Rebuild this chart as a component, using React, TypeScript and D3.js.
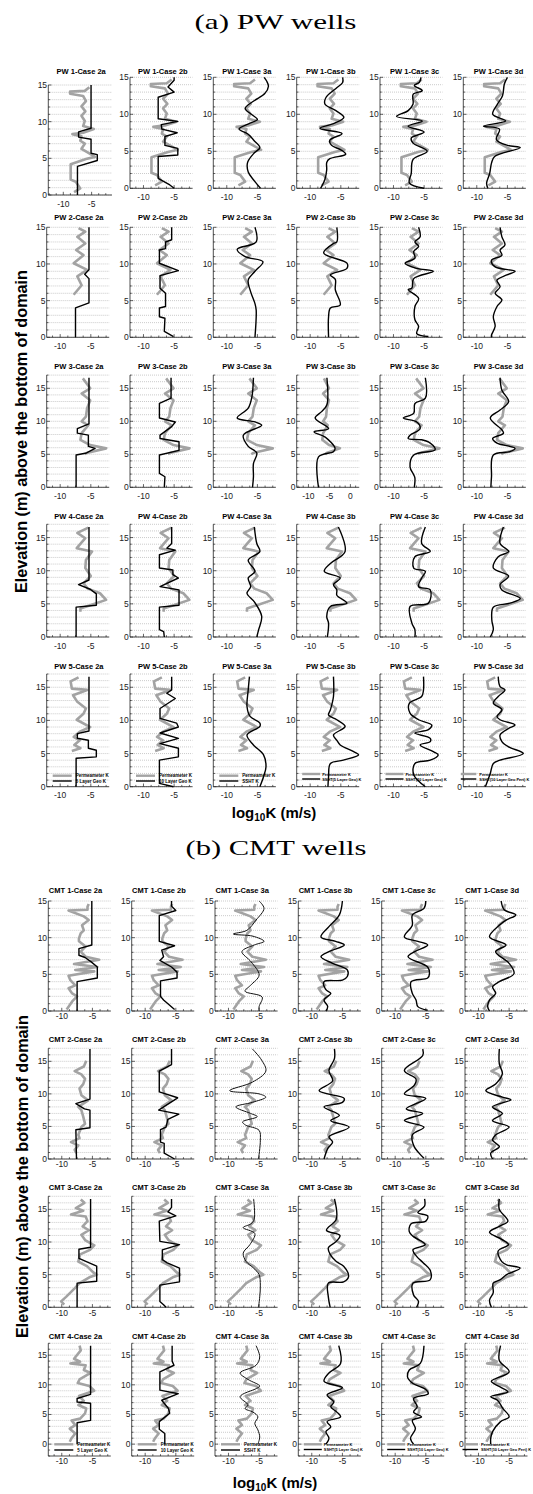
import React from "react"
import * as d3 from "d3"

type Pt = [number, number] // [log10 K, elevation (m)]

const caseIds = ["2a", "2b", "3a", "3b", "3c", "3d"]
const pwWells = ["PW 1", "PW 2", "PW 3", "PW 4", "PW 5"]
const cmtWells = ["CMT 1", "CMT 2", "CMT 3", "CMT 4"]
const permLabel = "Permeameter K"
const modelLabels = [
  "5 Layer Geo K",
  "10 Layer Geo K",
  "SSHT K",
  "SSHT(5 Layer Geo) K",
  "SSHT(10 Layer Geo) K",
  "SSHT(10 Layer Geo Pert) K",
]
const yTickValues = [0, 5, 10, 15]
const xTickValues = [-10, -5]
const xTickValuesWide = [-10, -5, 0]

// ---- permeameter K profiles (grey) ----
const pw1Perm: Pt[] = [[-8.1,0.4],[-7.0,0.9],[-7.8,1.8],[-8.7,2.1],[-8.7,4.2],[-6.0,4.9],[-4.4,5.2],[-5.7,5.8],[-6.8,6.3],[-6.2,7.0],[-7.0,7.4],[-6.8,8.0],[-8.4,8.3],[-6.5,8.5],[-4.6,9.0],[-6.5,9.4],[-6.2,10.1],[-6.8,10.8],[-6.1,11.4],[-6.8,12.1],[-6.0,12.8],[-6.5,13.5],[-8.8,13.8],[-8.8,14.1],[-6.2,14.2],[-5.4,14.7]]
const pw2Perm: Pt[] = [[-7.8,5.8],[-6.5,7.1],[-7.2,8.3],[-5.6,9.2],[-7.8,10.1],[-6.2,11.2],[-7.4,11.9],[-5.9,12.8],[-7.2,13.7],[-5.9,14.4],[-7.0,14.9]]
const pw3Perm: Pt[] = [[-6.0,5.0],[-5.7,5.2],[-2.5,5.9],[-5.1,6.4],[-6.7,7.2],[-6.5,8.2],[-5.4,9.4],[-6.5,10.0],[-5.8,10.7],[-5.6,12.0],[-5.1,13.2],[-6.5,14.2],[-5.1,15.0],[-6.3,16.5]]
const pw4Perm: Pt[] = [[-6.7,3.8],[-6.7,4.3],[-5.1,4.8],[-2.5,5.6],[-3.5,6.6],[-5.5,7.3],[-6.2,8.1],[-5.0,9.2],[-5.9,10.4],[-5.8,11.6],[-4.8,12.9],[-7.3,13.4],[-5.9,14.9],[-7.2,15.7],[-5.4,16.5]]
const pw5Perm: Pt[] = [[-8.1,5.4],[-6.7,5.8],[-7.7,6.3],[-6.8,7.0],[-7.8,7.5],[-6.8,8.3],[-5.1,9.0],[-7.3,10.1],[-6.2,11.0],[-5.8,11.8],[-7.2,12.8],[-7.9,13.8],[-5.6,14.6],[-8.1,14.8],[-8.3,15.9],[-7.0,16.5]]
const cmt1Perm: Pt[] = [[-9.2,0.2],[-8.3,1.3],[-7.5,2.0],[-8.3,2.4],[-8.9,3.1],[-7.8,3.5],[-8.6,4.2],[-8.9,4.8],[-4.7,5.4],[-7.8,5.6],[-4.2,6.0],[-8.0,6.4],[-3.9,7.0],[-6.1,7.4],[-6.9,8.1],[-6.1,8.8],[-7.2,9.5],[-7.2,9.9],[-6.9,10.6],[-6.4,11.0],[-6.7,11.7],[-5.6,12.4],[-6.4,12.9],[-8.9,13.7],[-5.8,13.8],[-5.8,14.2],[-5.6,14.6]]
const cmt2Perm: Pt[] = [[-7.6,0.9],[-7.9,1.4],[-7.3,2.1],[-8.5,2.6],[-7.1,3.2],[-7.3,3.7],[-7.1,4.2],[-6.8,4.9],[-6.2,5.4],[-6.5,6.5],[-6.8,7.5],[-7.3,8.0],[-6.5,8.5],[-5.7,9.0],[-6.8,9.8],[-7.1,10.8],[-6.5,11.5],[-6.2,12.3],[-6.8,13.0],[-7.9,13.5],[-6.4,14.2],[-6.0,15.1]]
const cmt3Perm: Pt[] = [[-9.6,0.4],[-10.1,0.9],[-9.3,1.6],[-7.9,2.9],[-7.1,3.7],[-5.5,4.6],[-4.3,5.0],[-4.8,5.3],[-5.9,6.3],[-7.3,7.0],[-7.0,8.1],[-5.4,8.8],[-4.7,9.5],[-6.2,10.3],[-6.8,11.1],[-5.6,11.8],[-6.6,12.4],[-5.8,13.2],[-6.1,13.9],[-8.5,14.2],[-6.5,14.8],[-7.7,15.2],[-6.3,16.0],[-6.9,16.5]]
const cmt4Perm: Pt[] = [[-8.7,0.4],[-8.4,1.0],[-7.8,1.8],[-8.7,2.6],[-7.8,3.2],[-8.4,4.0],[-7.0,4.3],[-6.2,5.2],[-6.0,6.0],[-7.3,6.6],[-6.4,7.3],[-7.2,8.1],[-4.7,9.0],[-5.5,9.8],[-7.4,10.3],[-7.1,10.9],[-5.3,12.0],[-6.4,12.5],[-6.1,13.3],[-8.6,13.6],[-7.0,13.9],[-8.0,14.4],[-6.9,15.8],[-7.1,16.6]]

// ---- model K profiles (black), one per case 2a,2b,3a,3b,3c,3d ----
const pw1Model: Pt[][] = [
  [[-7.5,0],[-7.5,3.9],[-4.0,4.7],[-4.0,5.5],[-5.1,5.7],[-5.1,7.6],[-7.3,7.9],[-7.3,8.6],[-5.1,9.1],[-5.1,15]],
  [[-5.0,0],[-5.7,0.45],[-7.6,1.35],[-7.6,4.3],[-4.4,4.5],[-4.4,5.4],[-6.5,5.8],[-6.5,7.0],[-4.5,7.5],[-7.0,8.0],[-7.1,8.6],[-4.4,9.05],[-7.6,9.4],[-7.6,12.3],[-5.0,13.0],[-6.0,13.7],[-5.0,14.6],[-5.0,15]],
  [[-4.5,0],[-5.5,1],[-6.5,2.2],[-6.6,3.5],[-5.5,4.8],[-4.6,5.5],[-5.6,6.5],[-6.5,7.3],[-8.0,8.0],[-6.2,8.8],[-5.0,9.3],[-6.0,10.0],[-7.0,10.8],[-5.6,11.8],[-3.8,12.8],[-3.2,13.8],[-3.5,14.5],[-3.9,15]],
  [[-8.3,0],[-8.1,0.3],[-7.6,1.2],[-7.3,2.5],[-7.3,3.5],[-6.8,4.0],[-4.2,4.6],[-5.0,5.2],[-6.5,5.8],[-6.8,6.5],[-4.8,7.4],[-8.4,8.1],[-6.0,8.8],[-4.5,9.6],[-5.8,10.5],[-7.6,11.4],[-7.4,12.3],[-5.8,13.5],[-4.7,14.3],[-4.7,15]],
  [[-5.0,0],[-7.4,0.7],[-7.1,2.0],[-6.8,3.9],[-4.5,5.0],[-6.8,6.1],[-7.1,6.8],[-5.0,7.6],[-7.6,8.4],[-5.3,9.1],[-9.5,9.7],[-7.6,10.5],[-6.8,11.4],[-6.8,12.7],[-5.3,13.2],[-6.6,13.9],[-5.8,14.3],[-5.5,15]],
  [[-8.2,0],[-8.4,0.7],[-7.9,2.0],[-7.6,3.4],[-7.1,4.3],[-2.9,5.5],[-5.0,5.8],[-6.8,6.6],[-6.3,8.0],[-8.9,8.4],[-5.3,9.1],[-7.4,10.0],[-6.6,11.4],[-5.8,12.5],[-5.5,14.1],[-5.0,15]],
]
const pw2Model: Pt[][] = [
  [[-7.5,0],[-7.5,4.0],[-5.3,4.7],[-5.3,8.0],[-6.0,8.6],[-5.3,9.2],[-5.3,15]],
  [[-5.1,0.1],[-6.6,0.8],[-6.5,2.6],[-7.4,2.8],[-7.4,4.0],[-6.4,4.2],[-6.4,6.0],[-7.3,6.7],[-7.3,8.4],[-4.3,9.1],[-7.4,10.1],[-7.4,11.9],[-6.4,12.1],[-6.4,13.0],[-5.4,13.3],[-5.4,15]],
  [[-5.4,0],[-5.2,3.7],[-5.4,4.6],[-6.1,6.2],[-6.5,7.8],[-5.4,9.0],[-4.1,10.3],[-7.0,11.0],[-8.3,12.0],[-5.2,13.0],[-5.4,15]],
  [[-7.0,0],[-7.0,2.8],[-6.7,4.0],[-5.1,4.4],[-5.9,6.5],[-5.9,7.9],[-6.7,8.5],[-4.0,9.4],[-4.0,10.1],[-7.8,11.5],[-6.2,12.8],[-5.65,13.0],[-5.65,15]],
  [[-4.3,0.1],[-6.2,0.5],[-5.9,1.5],[-6.5,2.4],[-6.5,4.2],[-5.9,5.3],[-7.6,6.5],[-7.0,6.7],[-6.7,8.0],[-3.5,9.0],[-6.2,9.4],[-8.1,10.1],[-6.5,10.8],[-6.7,11.7],[-5.9,12.4],[-6.5,13.0],[-5.65,13.7],[-5.9,15]],
  [[-7.6,0],[-7.6,0.3],[-7.0,1.5],[-7.3,2.8],[-6.7,4.2],[-5.9,5.1],[-7.0,6.0],[-6.2,6.9],[-6.7,7.8],[-5.1,8.5],[-3.75,9.0],[-7.0,9.6],[-7.6,10.5],[-5.9,11.2],[-6.2,11.9],[-5.4,12.6],[-5.9,13.7],[-6.2,15]],
]
const pw3Model: Pt[][] = [
  [[-7.4,0],[-7.4,4.9],[-5.7,5.2],[-4.3,5.9],[-5.4,6.2],[-5.4,7.9],[-7.2,8.2],[-7.2,8.9],[-5.3,9.6],[-5.3,16.6]],
  [[-6.6,0],[-6.5,1.6],[-7.4,2.1],[-7.4,4.9],[-4.2,5.6],[-4.2,6.9],[-7.3,7.4],[-7.3,7.9],[-5.4,9.2],[-4.8,9.9],[-7.4,10.5],[-7.4,12.7],[-5.5,13.5],[-5.5,16.6]],
  [[-5.8,0],[-5.65,1.6],[-5.65,3.6],[-5.1,5.2],[-6.5,6.2],[-7.3,7.9],[-4.3,9.4],[-5.4,9.9],[-8.3,10.5],[-6.5,12.0],[-5.9,13.7],[-5.65,16.6]],
  [[-7.6,0],[-7.6,4.6],[-4.05,5.4],[-3.65,5.9],[-6.0,7.6],[-8.65,8.4],[-5.2,8.9],[-8.4,10.5],[-6.8,11.5],[-5.6,12.5],[-5.6,16.6]],
  [[-6.6,0],[-6.5,1.4],[-6.7,1.9],[-7.3,3.1],[-6.7,4.9],[-3.2,5.7],[-4.0,6.7],[-5.4,7.2],[-7.6,7.4],[-7.3,7.9],[-5.65,8.9],[-6.2,9.9],[-8.4,10.5],[-6.7,11.2],[-6.5,12.7],[-4.8,13.5],[-4.8,16.6]],
  [[-7.7,0],[-7.6,1.6],[-7.3,4.9],[-4.6,5.4],[-3.75,5.9],[-4.6,6.2],[-6.7,6.7],[-7.4,7.4],[-5.65,8.2],[-5.9,8.7],[-7.8,10.5],[-6.2,11.7],[-4.8,13.0],[-5.9,14.7],[-6.2,16.6]],
]
const pw4Model: Pt[][] = [
  [[-7.4,0],[-7.4,4.5],[-4.1,4.8],[-4.1,6.5],[-5.1,7.2],[-7.0,7.9],[-5.3,8.6],[-5.3,16.6]],
  [[-6.6,0],[-6.7,0.8],[-7.4,1.1],[-7.4,4.5],[-4.2,4.8],[-4.2,7.1],[-7.3,7.6],[-4.3,8.9],[-5.2,9.4],[-5.2,10.1],[-7.4,10.4],[-7.4,12.4],[-4.8,13.1],[-6.2,13.4],[-5.4,14.1],[-5.4,16.6]],
  [[-5.1,0],[-4.8,1.1],[-4.3,3.1],[-5.5,5.3],[-6.7,6.6],[-6.1,7.6],[-6.5,8.9],[-5.4,9.9],[-6.5,11.6],[-4.6,12.9],[-5.1,14.1],[-5.5,16.6]],
  [[-7.2,0],[-7.0,2.1],[-7.3,3.1],[-6.7,4.6],[-4.0,5.1],[-5.65,6.3],[-5.65,7.1],[-6.2,7.9],[-5.1,8.9],[-7.7,9.9],[-6.7,11.1],[-4.3,12.9],[-5.4,16.6]],
  [[-6.5,0],[-6.5,1.1],[-7.0,2.1],[-7.3,4.6],[-4.3,5.1],[-4.0,7.1],[-5.9,7.6],[-5.4,8.9],[-4.8,9.9],[-6.7,10.4],[-6.5,12.1],[-4.0,12.9],[-5.4,14.1],[-4.8,16.6]],
  [[-7.8,0],[-7.3,1.1],[-7.55,2.6],[-7.3,4.5],[-4.6,5.1],[-2.9,5.8],[-5.9,7.1],[-6.2,7.9],[-4.8,9.2],[-7.3,10.4],[-6.5,12.1],[-4.8,12.9],[-6.2,14.1],[-5.65,16.6]],
]
const pw5Model: Pt[][] = [
  [[-7.4,0],[-7.4,4.3],[-4.1,4.5],[-4.1,5.5],[-5.4,5.8],[-5.4,7.0],[-7.2,7.3],[-7.2,8.0],[-5.3,8.4],[-5.3,16.6]],
  [[-5.1,0],[-7.4,0.5],[-7.4,4.0],[-4.3,4.5],[-4.3,5.8],[-7.3,6.5],[-4.3,7.3],[-7.3,8.1],[-4.3,9.0],[-4.6,9.6],[-7.3,10.3],[-7.3,11.8],[-4.8,13.3],[-6.2,14.1],[-5.4,14.6],[-5.4,16.6]],
  [[-4.6,0],[-4.0,1.5],[-3.6,3.0],[-4.0,4.8],[-5.65,6.3],[-6.7,7.8],[-4.6,9.1],[-4.6,9.6],[-6.2,10.6],[-6.7,12.1],[-6.5,14.6],[-6.3,16.6]],
  [[-7.1,0],[-7.0,1.5],[-6.7,3.5],[-4.6,4.0],[-2.1,4.8],[-2.9,5.3],[-5.1,6.3],[-5.65,7.0],[-6.2,7.8],[-4.3,9.1],[-5.65,10.1],[-7.0,10.8],[-6.7,11.6],[-6.2,13.6],[-6.2,16.6]],
  [[-4.8,0],[-6.7,1.8],[-6.5,3.5],[-4.0,4.0],[-2.7,4.8],[-3.5,5.3],[-5.65,6.3],[-4.0,6.8],[-4.0,7.3],[-6.5,8.1],[-4.3,8.6],[-3.75,9.3],[-5.9,10.1],[-7.3,11.1],[-7.4,12.6],[-5.4,13.6],[-5.1,14.6],[-5.1,16.6]],
  [[-8.6,0],[-7.8,2.0],[-7.3,3.5],[-6.2,4.0],[-2.4,5.0],[-4.8,6.0],[-5.9,6.8],[-6.2,7.8],[-4.8,8.8],[-3.75,9.3],[-6.2,10.1],[-6.7,10.6],[-5.9,11.6],[-7.3,12.6],[-6.5,13.6],[-5.4,14.6],[-6.2,15.1],[-6.5,16.6]],
]
const cmt1Model: Pt[][] = [
  [[-7.5,0],[-7.5,4.0],[-4.2,4.5],[-4.2,6.0],[-5.2,6.7],[-6.2,7.3],[-7.2,7.6],[-7.2,8.5],[-5.1,9.0],[-5.1,15]],
  [[-5.2,0.2],[-7.0,1.5],[-7.5,2.0],[-7.5,4.1],[-4.8,4.5],[-4.8,5.3],[-5.7,6.0],[-7.6,6.9],[-7.0,7.4],[-7.3,8.3],[-5.2,8.9],[-7.7,9.5],[-7.7,13.0],[-5.0,13.7],[-5.7,14.3],[-5.7,15]],
  [[-5.0,0],[-5.0,0.6],[-4.5,1.9],[-7.3,2.7],[-6.4,3.5],[-5.0,4.9],[-6.3,6.7],[-7.8,8.1],[-5.8,9.0],[-4.2,9.5],[-6.0,10.2],[-9.2,10.5],[-7.0,11.0],[-5.5,12.4],[-4.2,14.0],[-5.0,15]],
  [[-7.7,0],[-7.4,0.6],[-8.0,1.5],[-6.9,2.4],[-7.7,2.9],[-8.0,4.0],[-5.0,4.2],[-4.2,4.7],[-4.2,5.6],[-6.6,6.5],[-8.5,7.4],[-7.2,8.1],[-4.7,9.0],[-6.1,9.5],[-8.5,10.1],[-7.2,11.5],[-5.5,13.1],[-5.0,15]],
  [[-4.7,0.1],[-6.3,0.6],[-6.6,1.5],[-7.2,2.4],[-7.4,4.0],[-4.7,4.5],[-4.4,5.1],[-4.7,6.0],[-7.9,7.4],[-6.8,8.1],[-4.7,9.0],[-6.3,9.5],[-8.5,10.1],[-7.2,11.7],[-7.2,13.1],[-5.3,14.0],[-5.0,15]],
  [[-8.2,0],[-8.5,0.6],[-8.2,1.5],[-7.2,2.4],[-7.7,3.3],[-6.6,4.0],[-4.2,5.1],[-5.0,6.5],[-7.2,8.1],[-5.5,9.0],[-8.2,10.1],[-6.6,11.7],[-5.5,12.4],[-3.9,13.1],[-5.8,13.8],[-6.3,15]],
]
const cmt2Model: Pt[][] = [
  [[-7.6,0],[-7.7,4.5],[-5.4,4.8],[-5.4,7.5],[-6.3,7.7],[-7.7,8.5],[-5.4,9.2],[-5.4,16.9]],
  [[-5.2,0],[-6.9,0.9],[-6.9,2.4],[-7.5,2.6],[-7.5,4.5],[-6.6,4.9],[-6.3,6.1],[-4.5,6.9],[-7.8,7.5],[-4.7,9.4],[-7.7,10.3],[-7.7,13.5],[-5.7,14.5],[-5.7,16.9]],
  [[-5.1,0],[-4.8,2.9],[-5.0,4.4],[-7.2,5.2],[-7.7,5.7],[-5.3,6.5],[-6.4,7.0],[-8.8,8.0],[-6.1,8.7],[-3.9,9.5],[-5.0,10.0],[-9.8,10.5],[-6.1,11.8],[-3.9,13.5],[-4.6,15.2],[-6.1,16.9]],
  [[-8.0,0],[-7.4,1.6],[-6.6,2.6],[-7.2,3.4],[-3.9,4.9],[-6.9,5.9],[-5.5,6.7],[-8.0,8.0],[-5.0,8.7],[-4.7,9.3],[-8.8,10.5],[-6.6,12.0],[-7.2,13.6],[-6.3,15.4],[-6.3,16.9]],
  [[-5.3,0.1],[-6.1,0.9],[-6.9,1.9],[-7.2,3.7],[-5.3,4.9],[-8.5,5.9],[-5.5,7.0],[-8.2,7.7],[-5.0,9.3],[-8.5,10.0],[-6.9,11.3],[-6.6,12.3],[-8.5,13.6],[-5.5,15.9],[-5.5,16.9]],
  [[-7.7,0],[-8.0,0.9],[-6.6,1.9],[-7.7,2.9],[-7.2,3.7],[-5.0,4.9],[-7.7,5.9],[-6.1,7.0],[-7.7,8.0],[-4.7,9.1],[-6.1,9.5],[-8.8,10.5],[-7.2,11.5],[-6.1,13.1],[-6.6,14.6],[-6.6,16.9]],
]
const cmt3Model: Pt[][] = [
  [[-7.5,0],[-7.5,3.7],[-4.3,4.0],[-4.3,6.3],[-7.2,7.5],[-7.2,8.9],[-5.3,9.2],[-5.3,16.6]],
  [[-6.6,0],[-7.0,0.4],[-7.6,0.9],[-7.6,3.4],[-4.4,3.9],[-4.4,6.0],[-6.4,6.8],[-7.2,7.3],[-7.2,8.8],[-4.4,9.6],[-7.6,10.1],[-7.7,13.2],[-5.0,14.0],[-6.3,14.6],[-5.7,15.3],[-5.7,16.6]],
  [[-5.1,0],[-4.9,1.6],[-4.8,3.4],[-5.0,5.0],[-5.9,6.0],[-7.1,7.0],[-7.6,8.3],[-6.5,9.6],[-5.7,11.3],[-7.6,12.2],[-6.3,12.8],[-5.8,13.5],[-5.9,16.6]],
  [[-7.0,0],[-7.3,1.6],[-7.3,3.7],[-4.8,3.9],[-4.0,4.7],[-4.8,6.3],[-6.0,7.0],[-7.0,8.1],[-7.3,9.1],[-6.0,10.1],[-5.4,11.0],[-7.6,11.8],[-6.0,13.5],[-6.3,16.6]],
  [[-6.5,0],[-6.2,0.9],[-7.0,1.9],[-7.1,3.7],[-4.3,4.2],[-4.3,5.7],[-5.4,6.8],[-6.5,7.8],[-7.1,8.8],[-5.1,9.6],[-7.1,10.9],[-7.7,11.6],[-7.4,12.8],[-5.0,13.2],[-4.7,14.0],[-6.3,14.5],[-5.2,15.5],[-5.2,16.6]],
  [[-7.9,0],[-8.2,1.1],[-7.6,2.2],[-7.6,3.7],[-6.5,4.2],[-5.4,5.0],[-3.2,6.0],[-5.4,6.5],[-6.2,7.0],[-6.8,8.6],[-5.1,9.6],[-6.2,10.4],[-8.2,11.5],[-6.6,12.4],[-5.2,13.2],[-6.6,15.0],[-6.6,16.6]],
]
const cmt4Model: Pt[][] = [
  [[-7.5,0],[-7.5,3.6],[-5.3,4.0],[-5.3,6.9],[-7.5,7.1],[-7.5,7.7],[-5.3,8.4],[-5.3,16.6]],
  [[-6.8,0],[-6.8,1.8],[-7.7,2.5],[-7.7,3.8],[-6.0,5.2],[-6.2,6.0],[-7.3,7.4],[-4.6,8.5],[-7.6,9.1],[-7.6,12.2],[-5.3,13.3],[-5.6,14.0],[-5.6,16.6]],
  [[-5.2,0],[-4.9,1.2],[-5.2,2.4],[-5.7,3.5],[-5.2,4.6],[-6.0,5.4],[-7.3,6.0],[-6.8,6.6],[-8.1,8.0],[-5.4,9.4],[-4.9,9.8],[-6.8,10.9],[-8.1,12.0],[-5.5,13.3],[-4.9,14.7],[-5.5,16.6]],
  [[-7.7,0],[-7.2,1.0],[-7.7,2.1],[-6.9,2.9],[-7.5,3.8],[-5.3,4.6],[-5.9,5.4],[-6.9,6.3],[-6.4,7.1],[-7.5,8.3],[-5.0,9.5],[-8.0,10.6],[-7.2,12.0],[-5.3,13.6],[-5.6,16.6]],
  [[-7.0,0],[-7.5,1.0],[-6.7,2.6],[-7.2,4.0],[-5.7,4.6],[-7.0,5.4],[-6.4,6.3],[-7.0,7.7],[-4.6,8.5],[-5.0,9.2],[-7.2,10.3],[-8.0,11.4],[-7.7,12.5],[-5.9,13.6],[-5.3,16.6]],
  [[-8.0,0],[-8.0,1.0],[-7.7,2.1],[-6.4,3.8],[-5.0,4.6],[-6.0,6.0],[-6.9,7.4],[-8.0,8.0],[-5.2,8.8],[-6.4,9.6],[-7.9,10.6],[-5.0,12.2],[-6.6,14.1],[-6.4,16.6]],
]

// ---- layout ----
const W = 533
const H = 1494
const PANEL_W = 62.5
const K_DOMAIN: [number, number] = [-12.2, -2.0]
const K_DOMAIN_WIDE: [number, number] = [-12.8, 2.1]
const pwColX = [46.7, 130, 213.3, 296.7, 380, 463.3]
const cmtColX = [48.3, 131.7, 215, 298.3, 381.7, 465]
const SANS = "Liberation Sans, Arial, Helvetica, sans-serif"
const SERIF = "Liberation Serif, Times New Roman, serif"
const GREY = "#a3a3a3"

interface RowSpec {
  well: string
  perm: Pt[]
  models: Pt[][]
  titleY: number
  top: number
  bottom: number
  zDomain: [number, number]
  cmt: boolean
  legend?: { gray: number[]; black: number[] }
}

const rows: RowSpec[] = [
  { well: pwWells[0], perm: pw1Perm, models: pw1Model, titleY: 71, top: 77.3, bottom: 188.3, zDomain: [0, 15], cmt: false },
  { well: pwWells[1], perm: pw2Perm, models: pw2Model, titleY: 217.3, top: 227.3, bottom: 337.3, zDomain: [0, 15], cmt: false },
  { well: pwWells[2], perm: pw3Perm, models: pw3Model, titleY: 366.7, top: 375.1, bottom: 487.3, zDomain: [0, 17], cmt: false },
  { well: pwWells[3], perm: pw4Perm, models: pw4Model, titleY: 516.7, top: 524.3, bottom: 637, zDomain: [0, 17], cmt: false },
  { well: pwWells[4], perm: pw5Perm, models: pw5Model, titleY: 666, top: 674, bottom: 786.7, zDomain: [0, 17], cmt: false,
    legend: { gray: [11, 11, 11, 12.7, 12.7, 12.7], black: [5.7, 5.7, 5.7, 7.7, 7.7, 7.7] } },
  { well: cmtWells[0], perm: cmt1Perm, models: cmt1Model, titleY: 890.7, top: 901, bottom: 1011, zDomain: [0, 15], cmt: true },
  { well: cmtWells[1], perm: cmt2Perm, models: cmt2Model, titleY: 1039.3, top: 1048.3, bottom: 1159, zDomain: [0, 17], cmt: true },
  { well: cmtWells[2], perm: cmt3Perm, models: cmt3Model, titleY: 1187.3, top: 1196.3, bottom: 1307.3, zDomain: [0, 17], cmt: true },
  { well: cmtWells[3], perm: cmt4Perm, models: cmt4Model, titleY: 1336, top: 1343.3, bottom: 1456, zDomain: [-2, 17], cmt: true,
    legend: { gray: [11.7, 11.7, 11.7, 11.7, 11.7, 11.7], black: [6, 6, 6, 6.5, 6.5, 6.5] } },
]

// legend placement per column: line start, line end, text start (relative to left axis)
const legendX = [[6, 25, 29], [6, 25, 29], [6, 25, 29], [5.5, 23.5, 25.5], [5.5, 23.5, 25.5], [-2.5, 13, 16]]

interface PanelProps {
  row: RowSpec
  col: number
  rowIndex: number
}

function Panel({ row, col, rowIndex }: PanelProps) {
  let x0 = (row.cmt ? cmtColX : pwColX)[col]
  let w = PANEL_W
  let top = row.top
  let bottom = row.bottom
  let kDomain = K_DOMAIN
  let kTicks = xTickValues
  if (rowIndex === 0 && col === 0) {
    // first PW panel sits a bit lower and wider in the original
    x0 = 48.3
    w = 63.7
    top = 85
    bottom = 195
    kDomain = [-12.65, -1.4]
  }
  if (rowIndex === 2 && col === 3) {
    kDomain = K_DOMAIN_WIDE
    kTicks = xTickValuesWide
  }
  const x = d3.scaleLinear().domain(kDomain).range([x0, x0 + w])
  const y = d3.scaleLinear().domain(row.zDomain).range([bottom, top])
  const yBase = y(row.zDomain[0])
  const gridZ = d3.range(Math.max(0, Math.ceil(row.zDomain[0])), Math.floor(row.zDomain[1]) + 1)
  const minorZ = d3.range(Math.ceil(row.zDomain[0]), Math.floor(row.zDomain[1]) + 1)
  const minorK = d3.range(Math.ceil(kDomain[0] / 1.25) * 1.25, kDomain[1], 1.25)

  const permLine = d3.line<Pt>().x((d) => x(d[0])).y((d) => y(d[1]))
  const modelLine = d3
    .line<Pt>()
    .x((d) => x(d[0]))
    .y((d) => y(d[1]))
    .curve(col >= 2 ? d3.curveCatmullRom.alpha(0.5) : d3.curveLinear)

  const thin = row.cmt && col === 2
  const labelGap = row.cmt ? 8.4 : 11.5
  const title = `${row.well}-Case ${caseIds[col]}`
  const titleX = row.cmt ? x0 + w / 2 - 4 + (col === 5 ? 0 : 0) : x0 + w / 2 + 1 + col * 0.6

  return (
    <g>
      <text x={titleX} y={row.titleY + 2.7} textAnchor="middle" fontFamily={SANS} fontWeight="bold" fontSize={7.5}>
        {title}
      </text>
      {gridZ.map((z) => (
        <line key={`g${z}`} x1={x0} x2={x0 + w} y1={y(z)} y2={y(z)} stroke="#b4b4b4" strokeWidth={0.7} strokeDasharray="1,1" />
      ))}
      <line x1={x0} x2={x0} y1={top} y2={yBase} stroke="#222" strokeWidth={0.8} />
      <line x1={x0} x2={x0 + w} y1={yBase} y2={yBase} stroke="#222" strokeWidth={0.8} />
      {minorZ.map((z) => (
        <line key={`yt${z}`} x1={x0} x2={x0 + (z % 5 === 0 ? 3.2 : 1.8)} y1={y(z)} y2={y(z)} stroke="#222" strokeWidth={0.7} />
      ))}
      {minorK.map((k) => (
        <line key={`xt${k}`} x1={x(k)} x2={x(k)} y1={yBase} y2={yBase - (k % 5 === 0 ? 3.2 : 1.8)} stroke="#222" strokeWidth={0.7} />
      ))}
      {yTickValues.map((z) => (
        <text key={`yl${z}`} x={x0 - 1.2} y={y(z) + 3} textAnchor="end" fontFamily={SANS} fontSize={8.5} fill="#222">
          {z}
        </text>
      ))}
      {kTicks.map((k) => (
        <text key={`xl${k}`} x={x(k)} y={yBase + labelGap} textAnchor="middle" fontFamily={SANS} fontSize={8.5} fill="#222">
          {k}
        </text>
      ))}
      <path d={permLine(row.perm) ?? ""} fill="none" stroke={GREY} strokeWidth={2.6} strokeLinejoin="round" />
      <path d={modelLine(row.models[col]) ?? ""} fill="none" stroke={thin ? "#111" : "#000"}
        strokeWidth={thin ? 1.0 : 1.4} strokeLinejoin="round" />
      {row.legend && (
        <g fontFamily={SANS} fontWeight="bold" fontSize={col >= 3 ? 3.9 : 4.5}>
          <line x1={x0 + legendX[col][0]} x2={x0 + legendX[col][1]} y1={yBase - row.legend.gray[col]} y2={yBase - row.legend.gray[col]}
            stroke={GREY} strokeWidth={2.4} />
          <text x={x0 + legendX[col][2]} y={yBase - row.legend.gray[col] + 1.5}>{permLabel}</text>
          <line x1={x0 + legendX[col][0]} x2={x0 + legendX[col][1]} y1={yBase - row.legend.black[col]} y2={yBase - row.legend.black[col]}
            stroke="#000" strokeWidth={1.4} />
          <text x={x0 + legendX[col][2]} y={yBase - row.legend.black[col] + 1.5}>{modelLabels[col]}</text>
        </g>
      )}
    </g>
  )
}

export default function App() {
  return (
    <svg width={W} height={H} viewBox={`0 0 ${W} ${H}`} style={{ position: "absolute", left: 0, top: 0, background: "#fff" }}>
      <rect x={0} y={0} width={W} height={H} fill="#fff" />
      <text x={275.5} y={29} textAnchor="middle" fontFamily={SERIF} fontSize={22}
        textLength={162} lengthAdjust="spacingAndGlyphs">(a) PW wells</text>
      <text x={276} y={855} textAnchor="middle" fontFamily={SERIF} fontSize={22}
        textLength={181} lengthAdjust="spacingAndGlyphs">(b) CMT wells</text>

      <text transform="translate(27,431.5) rotate(-90)" textAnchor="middle" fontFamily={SANS} fontWeight="bold" fontSize={16.2}>
        Elevation (m) above the bottom of domain
      </text>
      <text transform="translate(28,1176.5) rotate(-90)" textAnchor="middle" fontFamily={SANS} fontWeight="bold" fontSize={16.2}>
        Elevation (m) above the bottom of domain
      </text>

      <text x={274} y={817.5} textAnchor="middle" fontFamily={SANS} fontWeight="bold" fontSize={15}>
        log<tspan fontSize={10} dy={3}>10</tspan><tspan dy={-3}>K (m/s)</tspan>
      </text>
      <text x={275} y={1487.5} textAnchor="middle" fontFamily={SANS} fontWeight="bold" fontSize={15}>
        log<tspan fontSize={10} dy={3}>10</tspan><tspan dy={-3}>K (m/s)</tspan>
      </text>

      {rows.map((row, ri) =>
        caseIds.map((_, ci) => <Panel key={`${ri}-${ci}`} row={row} col={ci} rowIndex={ri} />)
      )}
    </svg>
  )
}
